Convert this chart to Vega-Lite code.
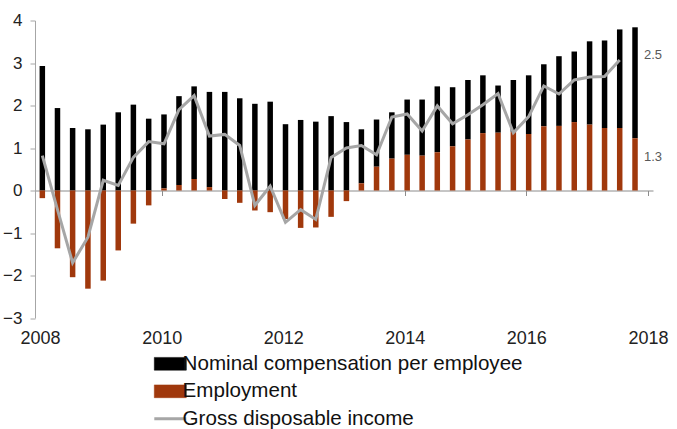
{
  "$schema": "https://vega.github.io/schema/vega-lite/v6.json",
  "autosize": {"type": "none"},
  "width": 618,
  "height": 297.5,
  "padding": {"left": 35, "top": 20.5, "right": 24, "bottom": 111},
  "background": "white",
  "config": {
    "view": {"stroke": null},
    "font": "Liberation Sans",
    "axis": {"grid": false},
    "axisY": {"domainColor": "#a6a6a6", "tickColor": "#a6a6a6", "tickSize": 5, "labelPadding": 8, "labelFontSize": 17, "labelColor": "#222222"}
  },
  "data": {"values": [
    {"date": "2008-01-15", "comp": 2.93, "emp": -0.18, "gdi": 0.82},
    {"date": "2008-04-15", "comp": 1.94, "emp": -1.36, "gdi": -0.45},
    {"date": "2008-07-15", "comp": 1.47, "emp": -2.04, "gdi": -1.70},
    {"date": "2008-10-15", "comp": 1.44, "emp": -2.31, "gdi": -1.10},
    {"date": "2009-01-15", "comp": 1.55, "emp": -2.12, "gdi": 0.24},
    {"date": "2009-04-15", "comp": 1.84, "emp": -1.41, "gdi": 0.12},
    {"date": "2009-07-15", "comp": 2.02, "emp": -0.78, "gdi": 0.78},
    {"date": "2009-10-15", "comp": 1.69, "emp": -0.35, "gdi": 1.15},
    {"date": "2010-01-15", "comp": 1.74, "emp": 0.05, "gdi": 1.10},
    {"date": "2010-04-15", "comp": 2.09, "emp": 0.13, "gdi": 1.90},
    {"date": "2010-07-15", "comp": 2.18, "emp": 0.27, "gdi": 2.23},
    {"date": "2010-10-15", "comp": 2.24, "emp": 0.08, "gdi": 1.28},
    {"date": "2011-01-15", "comp": 2.32, "emp": -0.20, "gdi": 1.32},
    {"date": "2011-04-15", "comp": 2.17, "emp": -0.29, "gdi": 1.06},
    {"date": "2011-07-15", "comp": 2.04, "emp": -0.47, "gdi": -0.35},
    {"date": "2011-10-15", "comp": 2.09, "emp": -0.51, "gdi": 0.10},
    {"date": "2012-01-15", "comp": 1.56, "emp": -0.67, "gdi": -0.75},
    {"date": "2012-04-15", "comp": 1.66, "emp": -0.88, "gdi": -0.45},
    {"date": "2012-07-15", "comp": 1.62, "emp": -0.87, "gdi": -0.68},
    {"date": "2012-10-15", "comp": 1.75, "emp": -0.62, "gdi": 0.78},
    {"date": "2013-01-15", "comp": 1.61, "emp": -0.25, "gdi": 1.00},
    {"date": "2013-04-15", "comp": 1.27, "emp": 0.17, "gdi": 1.06},
    {"date": "2013-07-15", "comp": 1.11, "emp": 0.56, "gdi": 0.84},
    {"date": "2013-10-15", "comp": 1.09, "emp": 0.75, "gdi": 1.73},
    {"date": "2014-01-15", "comp": 1.30, "emp": 0.84, "gdi": 1.80},
    {"date": "2014-04-15", "comp": 1.32, "emp": 0.82, "gdi": 1.40},
    {"date": "2014-07-15", "comp": 1.55, "emp": 0.90, "gdi": 1.99},
    {"date": "2014-10-15", "comp": 1.39, "emp": 1.04, "gdi": 1.57},
    {"date": "2015-01-15", "comp": 1.40, "emp": 1.20, "gdi": 1.78},
    {"date": "2015-04-15", "comp": 1.36, "emp": 1.35, "gdi": 2.02},
    {"date": "2015-07-15", "comp": 1.11, "emp": 1.36, "gdi": 2.28},
    {"date": "2015-10-15", "comp": 1.22, "emp": 1.38, "gdi": 1.36},
    {"date": "2016-01-15", "comp": 1.38, "emp": 1.33, "gdi": 1.74},
    {"date": "2016-04-15", "comp": 1.46, "emp": 1.51, "gdi": 2.46},
    {"date": "2016-07-15", "comp": 1.64, "emp": 1.52, "gdi": 2.27},
    {"date": "2016-10-15", "comp": 1.66, "emp": 1.61, "gdi": 2.60},
    {"date": "2017-01-15", "comp": 1.96, "emp": 1.55, "gdi": 2.67},
    {"date": "2017-04-15", "comp": 2.06, "emp": 1.47, "gdi": 2.68},
    {"date": "2017-07-15", "comp": 2.32, "emp": 1.47, "gdi": 3.07},
    {"date": "2017-10-15", "comp": 2.61, "emp": 1.23, "gdi": null}
  ]},
  "layer": [
    {
      "transform": [{"fold": ["comp", "emp"], "as": ["key", "value"]}],
      "mark": {"type": "bar", "size": 5.5},
      "encoding": {
        "x": {
          "field": "date", "type": "temporal",
          "scale": {"type": "utc", "domain": [{"year": 2008, "utc": true}, {"year": 2018, "utc": true}]},
          "axis": {
            "orient": "bottom", "title": null, "format": "%Y",
            "values": [{"year": 2008, "utc": true}, {"year": 2010, "utc": true}, {"year": 2012, "utc": true}, {"year": 2014, "utc": true}, {"year": 2016, "utc": true}, {"year": 2018, "utc": true}],
            "domain": false, "ticks": false, "labelPadding": 11, "labelFontSize": 18, "labelColor": "#222222", "labelFlush": false, "labelOverlap": false
          }
        },
        "y": {
          "field": "value", "type": "quantitative", "stack": "zero",
          "scale": {"domain": [-3, 4], "nice": false, "zero": false},
          "axis": {"title": null, "values": [-3, -2, -1, 0, 1, 2, 3, 4]}
        },
        "color": {
          "field": "key", "type": "nominal",
          "scale": {"domain": ["comp", "emp", "gdi"], "range": ["#000000", "#a0380c", "#a6a6a6"]},
          "legend": {
            "orient": "none", "legendX": 125, "legendY": 333, "direction": "vertical",
            "title": null, "padding": 0, "labelFontSize": 20.6, "labelColor": "#111111", "labelLimit": 0,
            "labelFont": "Liberation Sans", "labelOffset": 2, "symbolSize": 1024, "rowPadding": 6.5,
            "labelExpr": "datum.value == 'comp' ? 'Nominal compensation per employee' : datum.value == 'emp' ? 'Employment' : 'Gross disposable income'",
            "encode": {
              "symbols": {
                "update": {
                  "shape": {"signal": "datum.value == 'gdi' ? 'M-1,0H1' : 'M-1,-0.4H1V0.4H-1Z'"},
                  "fill": {"signal": "datum.value == 'gdi' ? 'transparent' : scale('color', datum.value)"},
                  "stroke": {"signal": "scale('color', datum.value)"},
                  "strokeWidth": {"signal": "datum.value == 'gdi' ? 3 : 0.5"},
                  "opacity": {"value": 1}
                }
              }
            }
          }
        },
        "order": {"field": "key", "sort": "descending"}
      }
    },
    {
      "mark": {"type": "line", "strokeWidth": 3},
      "encoding": {
        "x": {
          "field": "date", "type": "temporal",
          "axis": {
            "orient": "top", "offset": -170, "labels": false, "title": null,
            "domainColor": "#8c8c8c", "tickColor": "#8c8c8c", "tickSize": -5,
            "values": [{"year": 2008, "utc": true}, {"year": 2010, "utc": true}, {"year": 2012, "utc": true}, {"year": 2014, "utc": true}, {"year": 2016, "utc": true}, {"year": 2018, "utc": true}]
          }
        },
        "y": {"field": "gdi", "type": "quantitative", "axis": {"title": null, "values": [-3, -2, -1, 0, 1, 2, 3, 4]}},
        "color": {"datum": "gdi", "type": "nominal"}
      }
    },
    {
      "data": {"values": [
        {"date": "2018-01-01", "v": 3.2, "label": "2.5"},
        {"date": "2018-01-01", "v": 0.8, "label": "1.3"}
      ]},
      "mark": {"type": "text", "align": "left", "dx": -4, "fontSize": 13, "color": "#595959"},
      "encoding": {
        "x": {"field": "date", "type": "temporal", "axis": null},
        "y": {"field": "v", "type": "quantitative", "axis": {"title": null, "values": [-3, -2, -1, 0, 1, 2, 3, 4]}},
        "text": {"field": "label"}
      }
    }
  ]
}
